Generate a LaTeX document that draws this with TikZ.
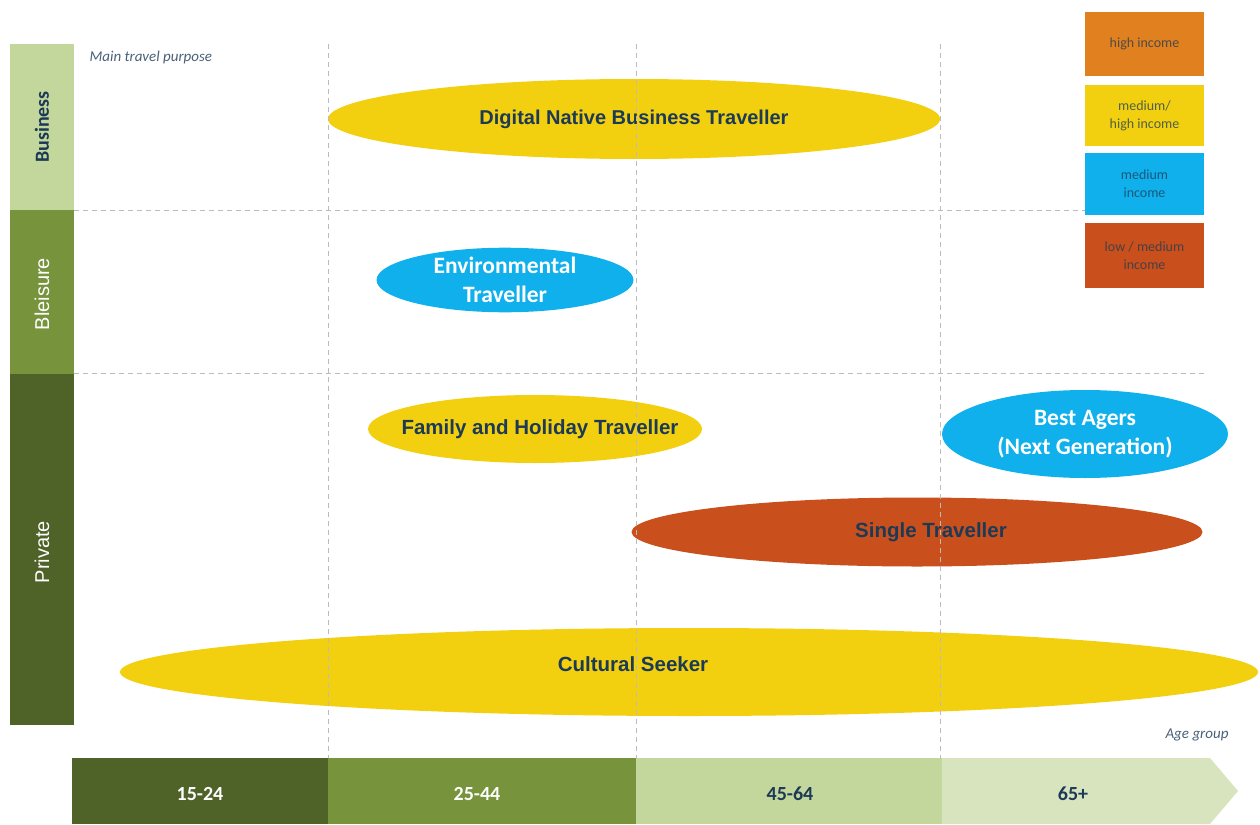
\documentclass[tikz,border=0pt]{standalone}
\usepackage{fontspec}
\setmainfont{Carlito}
\newfontfamily\arialfont{Liberation Sans}
\usepackage{tikz}
\usetikzlibrary{shapes.geometric}
\usepackage{xcolor}

\definecolor{darkgreen}{HTML}{4F6228}
\definecolor{midgreen}{HTML}{77933C}
\definecolor{lightgreen}{HTML}{C3D69B}
\definecolor{palegreen}{HTML}{D7E4BD}
\definecolor{segyellow}{HTML}{F2D00F}
\definecolor{segblue}{HTML}{10B0EC}
\definecolor{segred}{HTML}{C9501C}
\definecolor{segorange}{HTML}{E0801F}
\definecolor{navytext}{HTML}{1C3A56}
\definecolor{gridgray}{HTML}{BBBBBB}

\tikzset{
  segment/.style={ellipse,inner sep=0pt,draw=none,align=center,font=\arialfont\bfseries\fontsize{20.5}{24}\selectfont,text=navytext},
  whiteseg/.style={segment,text=white,font=\bfseries\fontsize{23.5}{29}\selectfont},
  legbox/.style={rectangle,inner sep=0pt,minimum width=119pt,align=center,font=\fontsize{14}{18}\selectfont,text=navytext,text opacity=0.75},
  agelabel/.style={font=\bfseries\fontsize{20}{22}\selectfont},
  purposelabel/.style={rotate=90,font=\arialfont\fontsize{20}{22}\selectfont},
  grid/.style={gridgray,line width=0.8pt,dash pattern=on 5pt off 4pt},
  note/.style={font=\itshape\fontsize{15}{17}\selectfont,text=navytext!80}
}

\begin{document}
\begin{tikzpicture}[x=1pt,y=-1pt]
  \useasboundingbox (0,0) rectangle (1260,824);
  % purpose bars on the left
  \fill[lightgreen] (10,44) rectangle (74,210);
  \fill[midgreen] (10,210) rectangle (74,374);
  \fill[darkgreen] (10,374) rectangle (74,725);
  \node[purposelabel,text=navytext,font=\bfseries\fontsize{20}{22}\selectfont] (business) at (42,127) {Business};
  \node[purposelabel,text=white] (bleisure) at (42,294) {Bleisure};
  \node[purposelabel,text=white] (private) at (42,552) {Private};
  \node[note,anchor=west] (purpose) at (86,58) {Main travel purpose};
  \node[note,anchor=east] (agegroup) at (1232,735) {Age group};

  % age bar at the bottom
  \fill[darkgreen] (72,758) rectangle (328,824);
  \fill[midgreen] (328,758) rectangle (636,824);
  \fill[lightgreen] (636,758) rectangle (942,824);
  \fill[palegreen] (942,758) -- (1210,758) -- (1238,791) -- (1210,824) -- (942,824) -- cycle;
  \node[agelabel,text=white] (a1) at (200,794) {15-24};
  \node[agelabel,text=white] (a2) at (477,794) {25-44};
  \node[agelabel,text=navytext] (a3) at (790,794) {45-64};
  \node[agelabel,text=navytext] (a4) at (1073,794) {65+};

  % income legend
  \node[legbox,fill=segorange,minimum height=64pt] (high) at (1144.5,44) {high income};
  \node[legbox,fill=segyellow,minimum height=61pt] (medhigh) at (1144.5,115.5) {medium/\\high income};
  \node[legbox,fill=segblue,minimum height=62pt] (medium) at (1144.5,184) {medium\\income};
  \node[legbox,fill=segred,minimum height=65pt] (lowmed) at (1144.5,255.5) {low / medium\\income};

  % traveller segments
  \node[segment,fill=segyellow,minimum width=612pt,minimum height=80pt,font=\arialfont\bfseries\fontsize{20}{24}\selectfont] (digital) at (634,119) {Digital Native Business Traveller};
  \node[whiteseg,fill=segblue,minimum width=257pt,minimum height=63pt] (environ) at (505,280) {Environmental\\Traveller};
  \node[segment,fill=segyellow,minimum width=334pt,minimum height=68pt,label={[segment,xshift=5pt]center:Family and Holiday Traveller}] (family) at (535,429) {};
  \node[whiteseg,fill=segblue,minimum width=286pt,minimum height=88pt] (bestagers) at (1085,434) {Best Agers\\(Next Generation)};
  \node[segment,fill=segred,minimum width=571pt,minimum height=69pt,label={[segment,xshift=14pt]center:Single Traveller}] (single) at (917,532) {};
  \node[segment,fill=segyellow,minimum width=1138pt,minimum height=88pt,label={[segment,xshift=-56pt,yshift=8pt]center:Cultural Seeker}] (cultural) at (689,672) {};

  % dashed grid
  \foreach \gx in {328,636,940}
    \draw[grid] (\gx,44) -- (\gx,758);
  \draw[grid] (74,210) -- (1085,210);
  \draw[grid] (74,373) -- (1207,373);
\end{tikzpicture}
\end{document}
